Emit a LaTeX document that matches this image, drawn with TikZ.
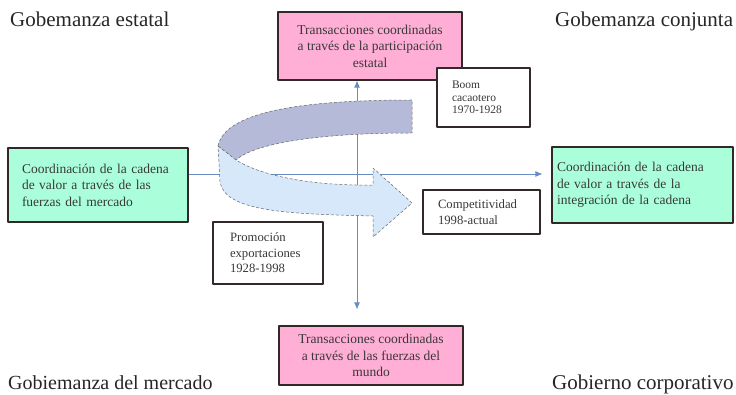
\documentclass[tikz,border=0pt]{standalone}
\usepackage{fontspec}
\setmainfont{Liberation Serif}
\usetikzlibrary{arrows.meta}
\definecolor{rosa}{RGB}{255,174,214}
\definecolor{menta}{RGB}{170,255,218}
\definecolor{eje}{RGB}{104,140,196}
\definecolor{cinta}{RGB}{180,186,216}
\definecolor{cintaclara}{RGB}{214,232,250}
\definecolor{borde}{RGB}{50,40,40}
\begin{document}
\begin{tikzpicture}[x=1pt, y=-1pt, line join=round,
	titulo/.style={inner sep=0pt, text=black!85, font=\fontsize{21}{24}\selectfont},
	caja/.style={draw=borde, line width=1.1pt, inner sep=0pt, text=black!78},
	rosabox/.style={caja, fill=rosa, minimum width=184pt, align=center, font=\fontsize{13.5}{16.5}\selectfont},
	mentabox/.style={caja, fill=menta, align=left, font=\fontsize{13.5}{16.5}\selectfont},
	blanca/.style={caja, fill=white, align=left, font=\fontsize{12.7}{15.5}\selectfont},
	ejeflecha/.style={eje, line width=0.9pt},
	cintaborde/.style={draw=black!60, densely dashed, line width=0.5pt}]
	\useasboundingbox (0,0) rectangle (736,395);
	\coordinate (o) at (357,174);
	% esquinas
	\node[titulo, anchor=base west] (estatal) at (10,27) {Gobemanza estatal};
	\node[titulo, anchor=base west] (conjunta) at (555,27) {Gobemanza conjunta};
	\node[titulo, anchor=base west, font=\fontsize{20}{24}\selectfont] (mercado) at (8,389) {Gobiemanza del mercado};
	\node[titulo, anchor=base west] (corporativo) at (552,389) {Gobierno corporativo};
	% cajas
	\node[rosabox, minimum height=68pt] (arriba) at (370,46) {Transacciones coordinadas\\a través de la participación\\estatal};
	\node[rosabox, minimum height=59pt] (abajo) at (371,355.5) {Transacciones coordinadas\\a través de las fuerzas del\\mundo};
	\node[mentabox, minimum width=180pt, minimum height=74pt, text width=152pt] (izq) at (98,185) {Coordinación de la cadena\\de valor a través de las\\fuerzas del mercado};
	\node[mentabox, minimum width=181pt, minimum height=76pt, text width=171pt] (der) at (642.5,185) {Coordinación de la cadena\\de valor a través de la\\integración de la cadena};
	% ejes
	\draw[ejeflecha, {Latex[length=7pt,width=6pt]}-{Latex[length=7pt,width=6pt]}, shorten >=16pt] (arriba.south -| o) -- (abajo.north -| o);
	\draw[ejeflecha, -{Latex[length=7pt,width=6pt]}, shorten >=9pt] (izq.east |- o) -- (der.west |- o);
	% cinta
	\filldraw[fill=cinta, cintaborde] (218,146) .. controls (225,112) and (300,100) .. (412,100) -- (412,133)
		.. controls (320,133) and (255,143) .. (236,160) -- cycle;
	\filldraw[fill=cintaclara, cintaborde] (218,146) -- (236,160) .. controls (265,178) and (320,186) .. (373,185)
		-- (373,168) -- (412,203) -- (373,237) -- (373,216)
		.. controls (290,214) and (225,212) .. (220,182) -- cycle;
	% etapas
	\node[blanca, minimum width=93pt, minimum height=59pt, text width=63pt, font=\fontsize{11.5}{12.5}\selectfont] (boom) at (483.5,97.5) {Boom\\cacaotero\\1970-1928};
	\node[blanca, minimum width=117pt, minimum height=44pt, text width=87pt] (compet) at (481.5,212) {Competitividad\\1998-actual};
	\node[blanca, minimum width=110pt, minimum height=62pt, text width=76pt] (promo) at (268,253) {Promoción\\exportaciones\\1928-1998};
\end{tikzpicture}
\end{document}
